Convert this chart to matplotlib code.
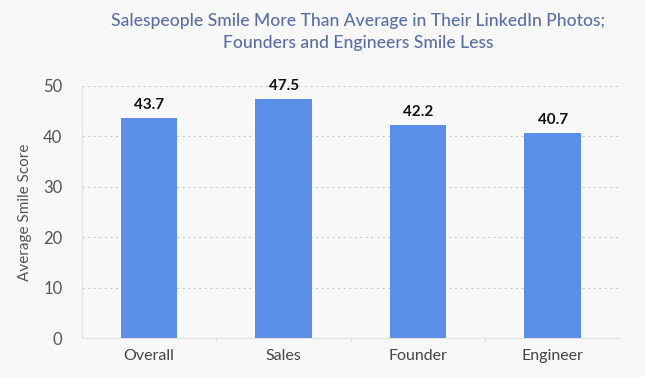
import matplotlib.pyplot as plt
import numpy as np

categories = ['Overall', 'Sales', 'Founder', 'Engineer']
scores = [43.7, 47.5, 42.2, 40.7]

bg = '#f8f8f8'
fig = plt.figure(figsize=(6.45, 3.77), dpi=100, facecolor=bg)
ax = fig.add_axes([0.127, 0.103, 0.834, 0.669], facecolor=bg)

x = np.arange(len(categories))
bars = ax.bar(x, scores, width=0.42, color='#5b8ee6', zorder=3)

for b, v in zip(bars, scores):
    ax.text(b.get_x() + b.get_width() / 2, v + 1.2, f'{v:.1f}', ha='center', va='bottom',
            fontsize=11, fontweight='bold', color='#111111', family='Lato')

ax.set_xlim(-0.5, len(categories) - 0.5)
ax.set_ylim(0, 50)
ax.set_yticks(range(0, 51, 10))
ax.set_xticks(x)
ax.set_xticklabels(categories, fontsize=11.5, color='#444444', family='Lato')
ax.tick_params(axis='y', labelsize=12, labelcolor='#555555', length=0, pad=14)
ax.tick_params(axis='x', length=0, pad=8)
for lbl in ax.get_yticklabels():
    lbl.set_family('Lato')

ax.grid(axis='y', linestyle=(0, (2, 3)), color='#cccccc', linewidth=0.8, zorder=0)
# category separators on the x axis
for s in np.arange(0.5, len(categories) - 0.5):
    ax.plot([s, s], [0, -0.6], color='#dddddd', lw=0.8, clip_on=False)

for side in ['top', 'right']:
    ax.spines[side].set_visible(False)
ax.spines['left'].set_color('#e2e2e2')
ax.spines['bottom'].set_color('#e2e2e2')

ax.set_ylabel('Average Smile Score', fontsize=11, color='#555555', family='Lato', labelpad=8)

fig.text(0.555, 0.965, 'Salespeople Smile More Than Average in Their LinkedIn Photos;\nFounders and Engineers Smile Less',
         ha='center', va='top', fontsize=12.6, color='#5b6fa6', family='Lato', fontweight='medium',
         linespacing=1.45)

fig.savefig('out.png', dpi=100, facecolor=bg)
